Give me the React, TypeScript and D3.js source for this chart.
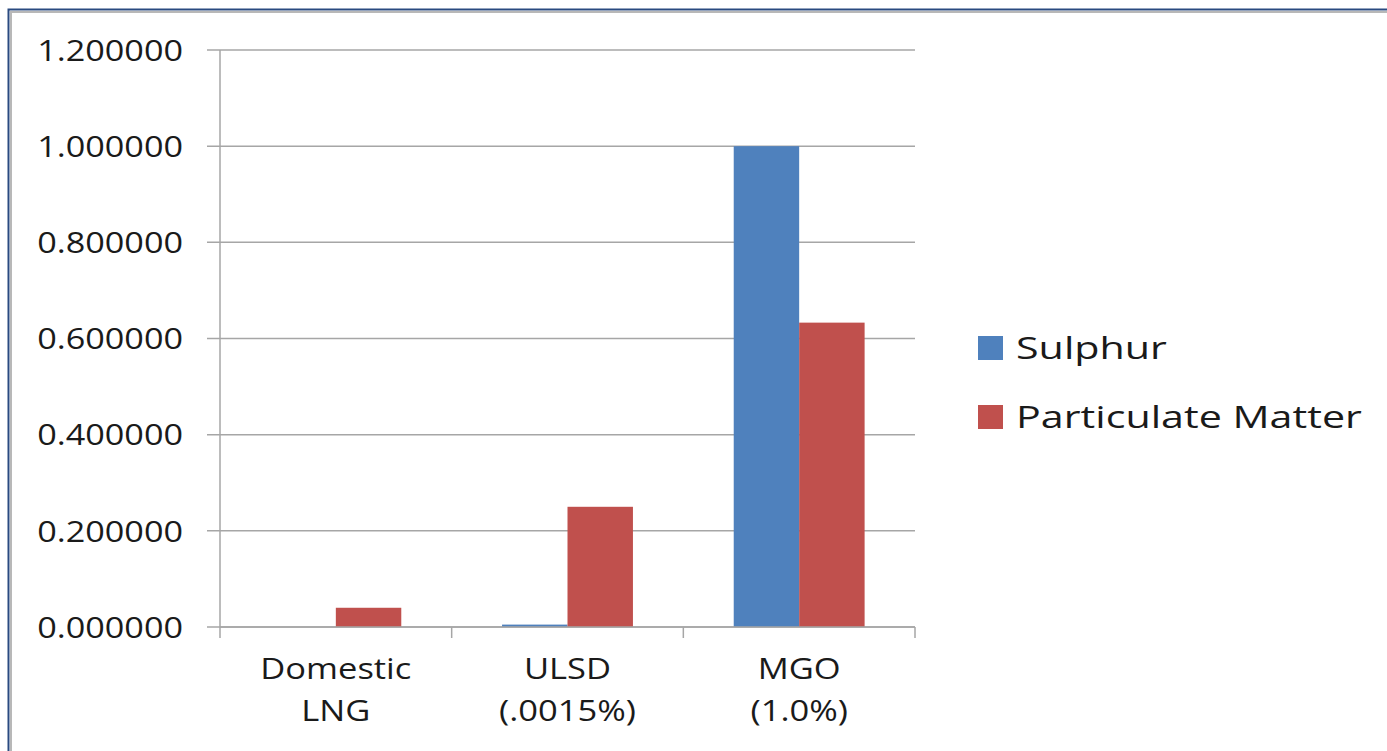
import React, { useEffect, useRef } from "react";
import * as d3 from "d3";

const categories = [["Domestic", "LNG"], ["ULSD", "(.0015%)"], ["MGO", "(1.0%)"]];
const seriesNames = ["Sulphur", "Particulate Matter"];
const sulphur = [0, 0.005, 1.0];
const particulate = [0.04, 0.25, 0.633];
const yTicks = [0, 0.2, 0.4, 0.6, 0.8, 1.0, 1.2];
const colors = ["#4F81BD", "#C0504D"];

export default function App() {
  const ref = useRef(null);

  useEffect(() => {
    const W = 1387, H = 751;
    const svg = d3.select(ref.current);
    svg.selectAll("*").remove();
    const font = "'Open Sans', 'Liberation Sans', sans-serif";

    svg.append("rect").attr("width", W).attr("height", H).attr("fill", "#fff");
    // outer frame
    svg.append("rect").attr("x", 8.5).attr("y", 9.5).attr("width", W + 20).attr("height", H + 20)
      .attr("fill", "none").attr("stroke", "#2a4a80").attr("stroke-width", 2);
    svg.append("rect").attr("x", 11).attr("y", 12).attr("width", W + 20).attr("height", H + 20)
      .attr("fill", "none").attr("stroke", "#b8b8b8").attr("stroke-width", 2);

    const left = 220, right = 915, top = 50, bottom = 627;
    const x = d3.scaleBand().domain(categories.map((d, i) => String(i))).range([left, right]).paddingInner(0).paddingOuter(0);
    const x1 = d3.scaleBand().domain(seriesNames).range([0, x.bandwidth()]).paddingOuter(0.77).paddingInner(0);
    const y = d3.scaleLinear().domain([0, 1.2]).range([bottom, top]);

    const g = svg.append("g");
    // gridlines
    g.selectAll("line.grid").data(yTicks).enter().append("line")
      .attr("x1", left - 13).attr("x2", right)
      .attr("y1", (d) => y(d)).attr("y2", (d) => y(d))
      .attr("stroke", "#a6a6a6").attr("stroke-width", 1.5);
    // y axis line
    g.append("line").attr("x1", left).attr("x2", left).attr("y1", top).attr("y2", bottom)
      .attr("stroke", "#a6a6a6").attr("stroke-width", 1.5);
    // y tick labels (stretched a bit to match the wide look of the original)
    g.selectAll("text.yt").data(yTicks).enter().append("text")
      .attr("transform", (d) => `translate(183,${y(d)}) scale(1.14,1)`)
      .attr("dy", "0.36em")
      .attr("text-anchor", "end").attr("font-family", font).attr("font-size", 30).attr("fill", "#1a1a1a")
      .text((d) => d3.format(".6f")(d));

    // bars
    const series = [sulphur, particulate];
    series.forEach((vals, si) => {
      g.selectAll("rect.s" + si).data(vals).enter().append("rect")
        .attr("x", (d, i) => x(String(i)) + x1(seriesNames[si]))
        .attr("width", x1.bandwidth())
        .attr("y", (d) => y(d))
        .attr("height", (d) => bottom - y(d))
        .attr("fill", colors[si]);
    });

    // x axis
    g.append("line").attr("x1", left).attr("x2", right).attr("y1", bottom).attr("y2", bottom)
      .attr("stroke", "#a6a6a6").attr("stroke-width", 1.5);
    const edges = categories.map((d, i) => x(String(i))).concat([right]);
    g.selectAll("line.xt").data(edges).enter().append("line")
      .attr("x1", (d) => d).attr("x2", (d) => d).attr("y1", bottom).attr("y2", bottom + 11)
      .attr("stroke", "#a6a6a6").attr("stroke-width", 1.5);
    categories.forEach((lines, i) => {
      lines.forEach((t, li) => {
        const cx = x(String(i)) + x.bandwidth() / 2;
        g.append("text").attr("transform", `translate(${cx},${679 + li * 42}) scale(1.15,1)`)
          .attr("text-anchor", "middle").attr("font-family", font).attr("font-size", 30).attr("fill", "#1a1a1a")
          .text(t);
      });
    });

    // legend
    seriesNames.forEach((s, i) => {
      const cy = 348 + i * 69;
      svg.append("rect").attr("x", 978).attr("y", cy - 12).attr("width", 25).attr("height", 24).attr("fill", colors[i]);
      svg.append("text").attr("transform", `translate(1016,${cy}) scale(1.33,1)`).attr("dy", "0.36em")
        .attr("font-family", font).attr("font-size", 31).attr("fill", "#1a1a1a").text(s);
    });
  }, []);

  return (
    <svg ref={ref} width={1387} height={751} style={{ position: "absolute", left: 0, top: 0 }} />
  );
}
